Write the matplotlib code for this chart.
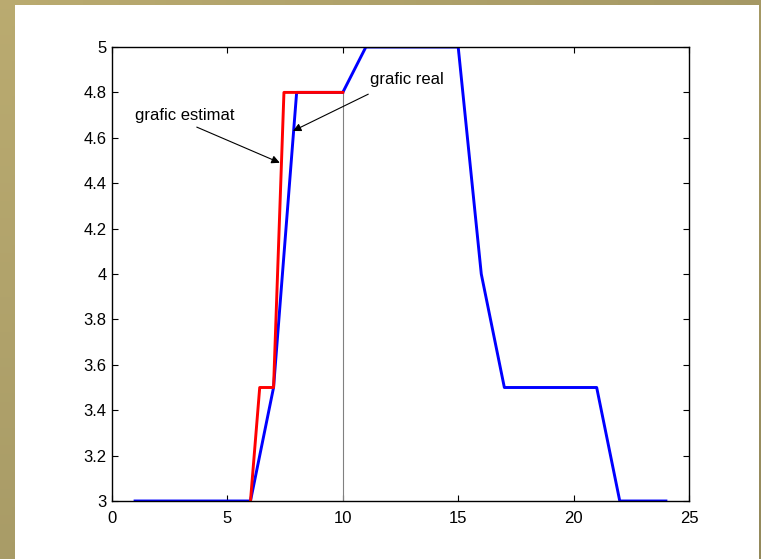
import numpy as np
import matplotlib.pyplot as plt
from matplotlib.patches import Rectangle

# real curve (blue)
x_real = [1, 2, 3, 4, 5, 6, 7, 8, 9, 10, 11, 12, 13, 14, 15, 16, 17, 18, 19, 20, 21, 22, 23, 24]
y_real = [3, 3, 3, 3, 3, 3, 3.5, 4.8, 4.8, 4.8, 5, 5, 5, 5, 5, 4, 3.5, 3.5, 3.5, 3.5, 3.5, 3, 3, 3]

# estimated curve (red)
x_est = [6, 6.4, 7, 7.45, 10]
y_est = [3, 3.5, 3.5, 4.8, 4.8]

# thin vertical marker
x_mark = 10
y_mark = [3, 4.8]

plt.rcParams['font.family'] = ['Liberation Sans', 'DejaVu Sans']

fig = plt.figure(figsize=(7.61, 5.59), dpi=100)

# slide background: olive gradient with a white panel on top
bg = fig.add_axes([0, 0, 1, 1], zorder=-10)
gx, gy = np.meshgrid(np.linspace(0, 1, 64), np.linspace(0, 1, 64))
g = 0.55 * gx + 0.45 * gy
c0 = np.array([0.73, 0.67, 0.44])
c1 = np.array([0.58, 0.54, 0.36])
img = c0[None, None, :] * (1 - g[..., None]) + c1[None, None, :] * g[..., None]
bg.imshow(img, extent=[0, 1, 0, 1], aspect='auto')
bg.add_patch(Rectangle((15 / 761, 0), (759 - 15) / 761, (559 - 5) / 559,
                       facecolor='white', edgecolor='none'))
bg.set_xlim(0, 1)
bg.set_ylim(0, 1)
bg.axis('off')

ax = fig.add_axes([112 / 761, 1 - 501 / 559, (689 - 112) / 761, (501 - 47) / 559])
ax.set_facecolor('white')

ax.plot([x_mark, x_mark], y_mark, color='#808080', linewidth=0.8)
ax.plot(x_real, y_real, color='#0000ff', linewidth=2.1)
ax.plot(x_est, y_est, color='#ff0000', linewidth=2.1)

ax.set_xlim(0, 25)
ax.set_ylim(3, 5)
ax.set_xticks([0, 5, 10, 15, 20, 25])
ax.set_yticks([3, 3.2, 3.4, 3.6, 3.8, 4, 4.2, 4.4, 4.6, 4.8, 5])
ax.set_yticklabels(['3', '3.2', '3.4', '3.6', '3.8', '4', '4.2', '4.4', '4.6', '4.8', '5'])
ax.tick_params(direction='in', length=4, width=0.8, top=True, right=True,
               labelsize=12)
ax.tick_params(axis='x', pad=7)
ax.tick_params(axis='y', pad=4)
for s in ax.spines.values():
    s.set_linewidth(1.0)

ax.annotate('grafic estimat', xy=(7.27, 4.49), xytext=(1.0, 4.70),
            fontsize=12, va='center', ha='left',
            arrowprops=dict(arrowstyle='-|>', color='black', lw=0.8,
                            shrinkA=0, shrinkB=0, mutation_scale=12,
                            relpos=(0.62, -0.3)))
ax.annotate('grafic real', xy=(7.84, 4.63), xytext=(11.2, 4.855),
            fontsize=12, va='center', ha='left',
            arrowprops=dict(arrowstyle='-|>', color='black', lw=0.8,
                            shrinkA=0, shrinkB=0, mutation_scale=12,
                            relpos=(-0.03, -0.45)))

fig.savefig('out.png', dpi=100)
